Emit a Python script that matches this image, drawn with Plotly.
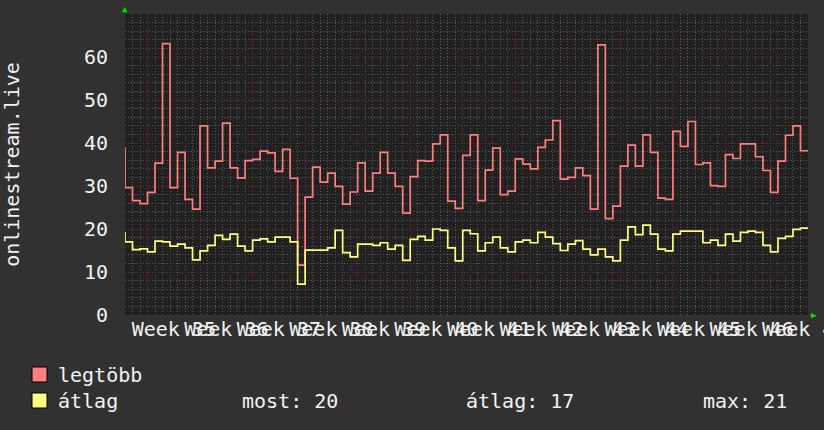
import plotly.graph_objects as go

# ---- data (daily values, first entry = value just before the visible window) ----
legtobb = [39.0,
    29.6, 26.6, 25.9, 28.5, 35.3, 63.1, 29.6, 37.8, 26.9, 24.6,
    44.0, 34.2, 35.8, 44.6, 34.2, 31.9, 35.9, 36.2, 38.1, 37.7,
    33.4, 38.5, 31.8, 11.6, 27.4, 34.4, 30.9, 33.0, 29.9, 25.8,
    28.6, 35.4, 28.8, 33.0, 37.8, 33.0, 29.9, 23.7, 32.2, 35.9,
    35.8, 39.8, 41.9, 26.5, 24.8, 37.1, 41.9, 26.6, 33.7, 38.8,
    28.0, 28.8, 36.3, 35.1, 34.0, 39.0, 40.7, 45.2, 31.6, 32.0,
    34.2, 32.4, 24.6, 62.8, 22.4, 25.3, 34.6, 39.5, 34.6, 41.9,
    37.8, 27.2, 26.9, 42.7, 39.2, 45.0, 35.0, 35.4, 30.1, 29.9,
    37.3, 36.4, 39.8, 39.8, 36.8, 33.6, 28.5, 35.8, 41.8, 44.0,
    38.2]
atlag = [19.3,
    17.0, 15.2, 15.4, 14.7, 17.2, 17.0, 16.0, 16.5, 15.6, 12.8,
    14.9, 16.2, 18.5, 17.6, 18.8, 16.0, 14.9, 17.4, 17.7, 17.0,
    18.1, 18.1, 17.0, 7.2, 15.1, 15.1, 15.1, 15.6, 19.7, 14.5,
    13.5, 16.5, 16.5, 16.2, 16.8, 15.3, 16.2, 12.7, 17.6, 18.3,
    17.4, 20.0, 19.7, 15.6, 12.6, 19.7, 18.9, 14.9, 16.8, 18.1,
    15.6, 14.7, 17.0, 17.4, 16.8, 19.2, 18.1, 16.6, 15.0, 16.5,
    17.3, 15.3, 14.0, 15.3, 13.5, 12.6, 17.4, 20.5, 18.7, 20.9,
    18.8, 15.3, 14.9, 18.8, 19.5, 19.5, 19.5, 16.8, 17.4, 16.2,
    18.8, 17.2, 19.2, 19.5, 19.2, 16.2, 14.7, 17.8, 18.3, 19.9,
    20.2]
day_end = list(range(len(legtobb)))          # end of each daily interval
week_labels = ["Week %d" % w for w in range(35, 48)]
week_starts = [3 + 7 * k for k in range(len(week_labels))]
week_mids = [s + 3.5 for s in week_starts]
y_ticks = [0, 10, 20, 30, 40, 50, 60]

RED = "#ff7f7f"
YEL = "#ffff7f"
FONT = "DejaVu Sans Mono"
TXT = "#f2f2f2"
MAJ = "rgba(125,48,48,1)"
MIN = "rgba(90,90,90,1)"
PAPER = "#313131"

vis = atlag[1:]
most = round(vis[-1])
avg = round(sum(vis) / len(vis))
mx = round(max(vis))

XR = [0, len(legtobb) - 1]

fig = go.Figure()
fig.add_trace(go.Scatter(x=day_end, y=legtobb, mode="lines",
                         line=dict(color=RED, width=1.7, shape="vh"),
                         name="legtöbb", showlegend=False, xaxis="x", yaxis="y"))
fig.add_trace(go.Scatter(x=day_end, y=atlag, mode="lines",
                         line=dict(color=YEL, width=1.7, shape="vh"),
                         name="átlag", showlegend=False, xaxis="x2", yaxis="y"))

fig.update_layout(
    width=824, height=430,
    paper_bgcolor=PAPER, plot_bgcolor="#212121",
    margin=dict(l=125, r=16, t=14, b=115, autoexpand=False),
    font=dict(family=FONT, size=20, color=TXT),
    hovermode=False,
    xaxis=dict(range=XR, tickmode="array", tickvals=week_mids, ticktext=week_labels,
               tickangle=0, automargin=False, ticks="", showgrid=False,
               ticklabeloverflow="allow",
               zeroline=False, showline=False,
               tickfont=dict(family=FONT, size=20, color=TXT),
               minor=dict(tickmode="linear", tick0=0, dtick=1, showgrid=True,
                          gridcolor=MIN, griddash="1px,2px", gridwidth=1)),
    xaxis2=dict(range=XR, overlaying="x", anchor="y", side="bottom",
                tickmode="array", tickvals=week_starts, showticklabels=False,
                automargin=False, ticks="", showgrid=True, gridcolor=MAJ,
                griddash="1px,2px", gridwidth=1, zeroline=False, showline=False),
    yaxis=dict(range=[0, 70], tickmode="array", tickvals=y_ticks, ticks="",
               automargin=False,
               showgrid=True, gridcolor=MAJ, griddash="1px,2px", gridwidth=1,
               zeroline=False, showline=False,
               tickfont=dict(family=FONT, size=20, color=TXT),
               ticklabelstandoff=16,
               minor=dict(tickmode="linear", tick0=0, dtick=2, showgrid=True,
                          gridcolor=MIN, griddash="1px,2px", gridwidth=1),
               title=dict(text="onlinestream.live", standoff=62,
                          font=dict(family=FONT, size=20, color=TXT))),
)

def px(xp):
    return (xp - 125) / 683.0

def py(yp):
    return (315 - yp) / 301.0

# legend boxes
for (top, col) in [(367, RED), (393, YEL)]:
    fig.add_shape(type="rect", xref="paper", yref="paper",
                  x0=px(32), x1=px(47), y0=py(top + 15), y1=py(top),
                  fillcolor=col, line=dict(color="#000000", width=1))

legend_items = [("legtöbb", 56, 375), ("átlag", 56, 401),
                ("most: %d" % most, 240, 401), ("átlag: %d" % avg, 464, 401),
                ("max: %d" % mx, 701, 401)]
for text, x0, yc in legend_items:
    fig.add_annotation(text=text, xref="paper", yref="paper", x=px(x0), y=py(yc),
                       xanchor="left", yanchor="middle", showarrow=False,
                       font=dict(family=FONT, size=20, color=TXT))

# axis arrows
fig.add_annotation(text="▲", xref="paper", yref="paper", x=px(125), y=py(9),
                   xanchor="center", yanchor="middle", showarrow=False,
                   font=dict(size=9, color="#00dd00"))
fig.add_annotation(text="▶", xref="paper", yref="paper", x=px(814), y=py(315),
                   xanchor="center", yanchor="middle", showarrow=False,
                   font=dict(size=9, color="#00dd00"))

fig.write_html("out.html", config={"displayModeBar": False},
               post_script="document.body.style.margin='0';"
                           "document.body.style.background='%s';" % PAPER)
